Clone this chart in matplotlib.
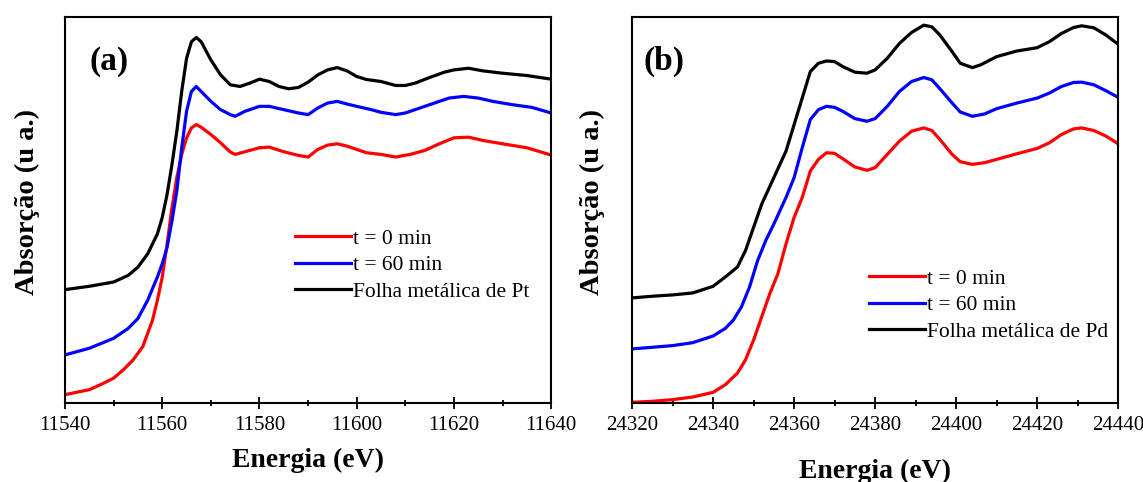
import matplotlib
matplotlib.use("Agg")
import matplotlib.pyplot as plt
from matplotlib.ticker import MultipleLocator

plt.rcParams['font.family'] = ['Liberation Serif', 'DejaVu Serif']

# ---------------- Panel (a): Pt L3-edge ----------------
pt_black_e = [11540, 11545, 11550, 11553, 11555, 11557, 11559, 11560, 11561, 11562, 11563, 11564, 11565,
              11566, 11567, 11568, 11570, 11572, 11574, 11576, 11578, 11580, 11582, 11584, 11586, 11588,
              11590, 11592, 11594, 11596, 11598, 11600, 11602, 11605, 11608, 11610, 11612, 11615, 11618,
              11620, 11623, 11626, 11630, 11635, 11640]
pt_black = [342, 352, 365, 385, 410, 450, 510, 560, 630, 720, 820, 940, 1040,
            1090, 1103, 1090, 1035, 990, 960, 955, 965, 977, 970, 955, 948, 952,
            968, 990, 1005, 1012, 1002, 985, 976, 970, 958, 958, 965, 982, 998,
            1005, 1010, 1002, 995, 988, 977]

pt_blue_e = [11540, 11545, 11550, 11553, 11555, 11557, 11559, 11560, 11561, 11562, 11563, 11564, 11565,
             11566, 11567, 11568, 11570, 11572, 11574, 11575, 11577, 11580, 11582, 11585, 11588, 11590,
             11592, 11594, 11596, 11598, 11600, 11603, 11605, 11608, 11610, 11613, 11616, 11619, 11622,
             11625, 11628, 11632, 11636, 11640]
pt_blue = [145, 165, 195, 225, 255, 310, 380, 420, 470, 550, 640, 770, 880,
           940, 955, 940, 910, 885, 870, 865, 880, 895, 895, 885, 875, 870,
           890, 905, 910, 902, 895, 885, 877, 870, 875, 890, 905, 920, 925,
           920, 910, 900, 892, 875]

pt_red_e = [11540, 11545, 11548, 11550, 11552, 11554, 11556, 11558, 11559, 11560, 11561, 11562, 11563,
            11564, 11565, 11566, 11567, 11568, 11570, 11572, 11574, 11575, 11577, 11580, 11582, 11585,
            11588, 11590, 11592, 11594, 11596, 11598, 11600, 11602, 11605, 11608, 11611, 11614, 11617,
            11620, 11623, 11626, 11630, 11635, 11640]
pt_red = [25, 40, 60, 75, 100, 130, 170, 250, 310, 380, 480, 590, 680,
          750, 800, 830, 840, 832, 810, 785, 757, 750, 758, 770, 772, 758,
          747, 742, 765, 778, 782, 775, 765, 755, 750, 742, 750, 762, 782,
          800, 802, 792, 782, 770, 748]

# ---------------- Panel (b): Pd K-edge ----------------
pd_black_e = [24320, 24325, 24330, 24335, 24340, 24343, 24346, 24348, 24350, 24352, 24355, 24358, 24360,
              24362, 24364, 24366, 24368, 24370, 24372, 24375, 24378, 24380, 24383, 24386, 24389, 24392,
              24394, 24396, 24399, 24401, 24404, 24406, 24410, 24415, 24420, 24423, 24426, 24429, 24431,
              24434, 24437, 24440]
pd_black = [317, 322, 326, 332, 352, 380, 410, 460, 530, 600, 680, 760, 840,
            920, 1000, 1025, 1032, 1030, 1015, 998, 995, 1005, 1040, 1085, 1118, 1140,
            1135, 1110, 1060, 1025, 1012, 1020, 1045, 1062, 1072, 1090, 1115, 1133, 1138,
            1132, 1110, 1082]

pd_blue_e = [24320, 24325, 24330, 24335, 24340, 24343, 24345, 24347, 24349, 24351, 24353, 24355, 24358,
             24360, 24362, 24364, 24366, 24368, 24370, 24372, 24375, 24378, 24380, 24383, 24386, 24389,
             24392, 24394, 24396, 24399, 24401, 24404, 24407, 24410, 24415, 24420, 24423, 24426, 24429,
             24431, 24434, 24437, 24440]
pd_blue = [163, 168, 173, 182, 202, 225, 250, 290, 350, 430, 490, 540, 620,
           680, 770, 855, 885, 895, 892, 880, 858, 850, 858, 895, 940, 970,
           982, 975, 948, 905, 878, 865, 872, 888, 905, 920, 935, 955, 967,
           968, 960, 942, 922]

pd_red_e = [24320, 24325, 24330, 24335, 24340, 24343, 24346, 24348, 24350, 24352, 24354, 24356, 24358,
            24360, 24362, 24364, 24366, 24368, 24370, 24372, 24375, 24378, 24380, 24383, 24386, 24389,
            24392, 24394, 24396, 24399, 24401, 24404, 24407, 24410, 24415, 24420, 24423, 24426, 24429,
            24431, 24434, 24437, 24440]
pd_red = [2, 5, 10, 18, 32, 55, 90, 130, 190, 260, 330, 390, 480,
          560, 620, 700, 735, 755, 753, 737, 712, 702, 710, 750, 790, 820,
          830, 822, 795, 750, 728, 720, 725, 735, 752, 768, 785, 810, 827,
          830, 822, 805, 782]

labels_a = ['t = 0 min', 't = 60 min', 'Folha metálica de Pt']
labels_b = ['t = 0 min', 't = 60 min', 'Folha metálica de Pd']
colors = ['#ff0000', '#0000ff', '#000000']

fig = plt.figure(figsize=(11.43, 4.82), dpi=100)
ax_a = fig.add_axes([0.0569, 0.164, 0.4253, 0.801])
ax_b = fig.add_axes([0.553, 0.164, 0.4253, 0.801])

def style(ax, xlim, letter, letter_x, xlab_pad, ylab_x):
    ax.set_xlim(*xlim)
    ax.set_ylim(0, 1165)
    ax.set_yticks([])
    ax.xaxis.set_major_locator(MultipleLocator(20))
    ax.xaxis.set_minor_locator(MultipleLocator(10))
    ax.tick_params(axis='x', which='major', direction='inout', length=9, width=1.3,
                   labelsize=15, pad=5, top=False)
    ax.tick_params(axis='x', which='minor', direction='inout', length=5, width=1.3, top=False)
    for s in ax.spines.values():
        s.set_linewidth(1.5)
    ax.set_xlabel('Energia (eV)', fontsize=20, fontweight='bold', labelpad=xlab_pad)
    ax.set_ylabel('Absorção (u a.)', fontsize=20.5, fontweight='bold')
    ax.yaxis.set_label_coords(ylab_x, 0.52)
    ax.text(letter_x, 0.925, letter, transform=ax.transAxes, fontsize=24, fontweight='bold',
            va='top', ha='left')

leg_kw = dict(loc='upper left', frameon=False, fontsize=15.5, handlelength=2.6,
              handletextpad=0.1, labelspacing=0.3, borderpad=0.0, borderaxespad=0.0)

# Panel (a)
ax_a.plot(pt_red_e, pt_red, color=colors[0], lw=2.3, label=labels_a[0])
ax_a.plot(pt_blue_e, pt_blue, color=colors[1], lw=2.3, label=labels_a[1])
ax_a.plot(pt_black_e, pt_black, color=colors[2], lw=2.3, label=labels_a[2])
style(ax_a, (11540, 11640), '(a)', 0.05, 9, -0.052)
ax_a.legend(bbox_to_anchor=(0.473, 0.452), **leg_kw)

# Panel (b)
ax_b.plot(pd_red_e, pd_red, color=colors[0], lw=2.3, label=labels_b[0])
ax_b.plot(pd_blue_e, pd_blue, color=colors[1], lw=2.3, label=labels_b[1])
ax_b.plot(pd_black_e, pd_black, color=colors[2], lw=2.3, label=labels_b[2])
style(ax_b, (24320, 24440), '(b)', 0.023, 17, -0.056)
ax_b.legend(bbox_to_anchor=(0.488, 0.348), **leg_kw)

fig.savefig('out.png', dpi=100)
